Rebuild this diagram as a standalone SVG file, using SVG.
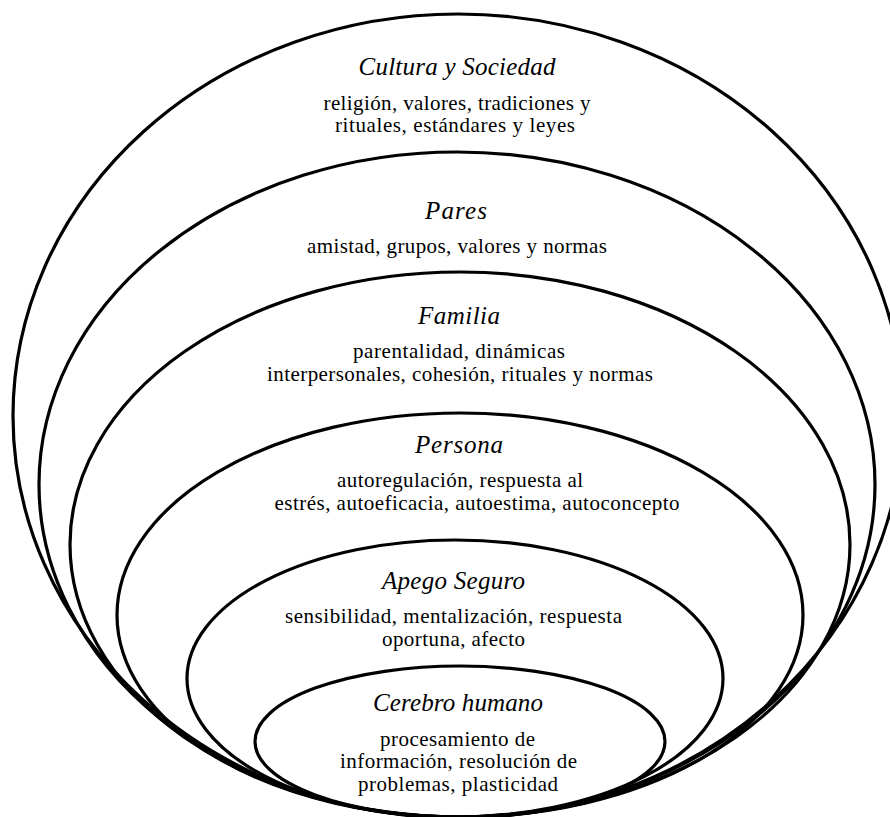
<svg xmlns="http://www.w3.org/2000/svg" width="890" height="817" viewBox="0 0 890 817" font-family="Liberation Serif, Times New Roman, serif">
<style>
.ring{fill:none;stroke:#000;stroke-width:3.2}
.t{font-family:'Liberation Serif',serif;font-style:italic;font-size:25px;fill:#000;text-anchor:middle}
.b{font-family:'Liberation Serif',serif;font-size:21px;fill:#000;text-anchor:middle}
</style>
<rect width="890" height="817" fill="#fff"/>
<g id="cultura">
<ellipse class="ring" cx="458" cy="416" rx="445" ry="402"/>
<text class="t" x="457" y="75" textLength="197" lengthAdjust="spacing">Cultura y Sociedad</text>
<text class="b" x="457" y="110" textLength="267" lengthAdjust="spacing">religión, valores, tradiciones y</text>
<text class="b" x="455" y="132" textLength="240" lengthAdjust="spacing">rituales, estándares y leyes</text>
</g>
<g id="pares">
<ellipse class="ring" cx="457" cy="484.5" rx="418" ry="332.5"/>
<text class="t" x="456" y="219" textLength="62" lengthAdjust="spacing">Pares</text>
<text class="b" x="457" y="253" textLength="300" lengthAdjust="spacing">amistad, grupos, valores y normas</text>
</g>
<g id="familia">
<ellipse class="ring" cx="460" cy="544.5" rx="390" ry="272.5"/>
<text class="t" x="459" y="324" textLength="82" lengthAdjust="spacing">Familia</text>
<text class="b" x="459" y="358" textLength="212" lengthAdjust="spacing">parentalidad, dinámicas</text>
<text class="b" x="460" y="381" textLength="386" lengthAdjust="spacing">interpersonales, cohesión, rituales y normas</text>
</g>
<g id="persona">
<ellipse class="ring" cx="460" cy="615" rx="343" ry="202"/>
<text class="t" x="459" y="453" textLength="88" lengthAdjust="spacing">Persona</text>
<text class="b" x="460" y="487" textLength="246" lengthAdjust="spacing">autoregulación, respuesta al</text>
<text class="b" x="477" y="510" textLength="405" lengthAdjust="spacing">estrés, autoeficacia, autoestima, autoconcepto</text>
</g>
<g id="apego">
<ellipse class="ring" cx="455" cy="678.5" rx="268" ry="138.5"/>
<text class="t" x="453.5" y="589" textLength="143" lengthAdjust="spacing">Apego Seguro</text>
<text class="b" x="453.5" y="623" textLength="337" lengthAdjust="spacing">sensibilidad, mentalización, respuesta</text>
<text class="b" x="453.5" y="646" textLength="143" lengthAdjust="spacing">oportuna, afecto</text>
</g>
<g id="cerebro">
<ellipse class="ring" cx="460" cy="741.5" rx="205" ry="75.5"/>
<text class="t" x="458" y="711" textLength="170" lengthAdjust="spacing">Cerebro humano</text>
<text class="b" x="457.5" y="746" textLength="155" lengthAdjust="spacing">procesamiento de</text>
<text class="b" x="458.5" y="768" textLength="237" lengthAdjust="spacing">información, resolución de</text>
<text class="b" x="458" y="791" textLength="200" lengthAdjust="spacing">problemas, plasticidad</text>
</g>
<g id="connectors"/>
</svg>
